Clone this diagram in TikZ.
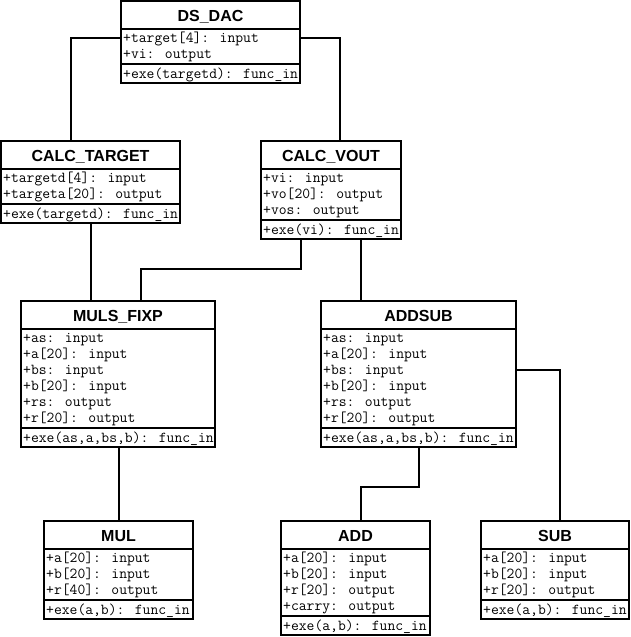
\documentclass[tikz,border=0pt]{standalone}
\usepackage{fontspec}
\newfontfamily\hdfont{Liberation Sans}
\usetikzlibrary{calc}
\tikzset{
  classbox/.style={draw, line width=1.5pt, rectangle, inner sep=0pt, outer sep=0pt, anchor=north west, fill=white},
  sepline/.style={line width=1.5pt},
  classtitle/.style={font=\hdfont\bfseries\fontsize{16}{18}\selectfont, inner sep=0pt, anchor=base},
  member/.style={font=\ttfamily\fontsize{15.2}{16}\selectfont, anchor=mid west, inner sep=0pt},
  conn/.style={line width=1.5pt}
}
% #1 name, #2 L, #3 R, #4 T, #5 number of attributes, #6 title, #7 attributes, #8 method
\newcommand\umlclass[8]{%
  \pgfmathsetmacro\hsep{#4+28}%
  \pgfmathsetmacro\msep{#4+28+16*#5+3}%
  \pgfmathsetmacro\cbot{\msep+19}%
  \pgfmathsetmacro\bw{#3-#2}%
  \pgfmathsetmacro\bh{\cbot-#4}%
  \node[classbox, minimum width=\bw pt, minimum height=\bh pt] (#1) at (#2,#4) {};
  \node[classtitle] (#1-t) at ({(#2+#3)/2},#4+20.5) {#6};
  \draw[sepline] (#2,\hsep) -- (#3,\hsep);
  \draw[sepline] (#2,\msep) -- (#3,\msep);
  \foreach \attr [count=\i] in {#7} {
    \node[member] (#1-a\i) at (#2+2,{\hsep+11.5+16*(\i-1)}) {\attr};
  }
  \node[member] (#1-m) at (#2+2,\msep+12) {#8};
}
\begin{document}
\begin{tikzpicture}[x=1pt,y=-1pt]
\useasboundingbox (0,0) rectangle (630,637);

\umlclass{dsdac}{121}{300}{1}{2}{DS\_DAC}{+target[4]: input,+vi: output}{+exe(targetd): func\_in}
\umlclass{calctarget}{1}{180}{141}{2}{CALC\_TARGET}{+targetd[4]: input,+targeta[20]: output}{+exe(targetd): func\_in}
\umlclass{calcvout}{261}{401}{141}{3}{CALC\_VOUT}{+vi: input,+vo[20]: output,+vos: output}{+exe(vi): func\_in}
\umlclass{mulsfixp}{21}{215}{301}{6}{MULS\_FIXP}{+as: input,+a[20]: input,+bs: input,+b[20]: input,+rs: output,+r[20]: output}{+exe(as,a,bs,b): func\_in}
\umlclass{addsub}{321}{516}{301}{6}{ADDSUB}{+as: input,+a[20]: input,+bs: input,+b[20]: input,+rs: output,+r[20]: output}{+exe(as,a,bs,b): func\_in}
\umlclass{mul}{44}{193}{521}{3}{MUL}{+a[20]: input,+b[20]: input,+r[40]: output}{+exe(a,b): func\_in}
\umlclass{add}{281}{430}{521}{4}{ADD}{+a[20]: input,+b[20]: input,+r[20]: output,+carry: output}{+exe(a,b): func\_in}
\umlclass{sub}{481}{629}{521}{3}{SUB}{+a[20]: input,+b[20]: input,+r[20]: output}{+exe(a,b): func\_in}

\draw[conn] ([yshift=-37pt]dsdac.north west) -| ([xshift=70pt]calctarget.north west);
\draw[conn] ([yshift=-37pt]dsdac.north east) -| ([xshift=79pt]calcvout.north west);
\draw[conn] ([xshift=90pt]calctarget.south west) -- ([xshift=90pt]calctarget.south west |- mulsfixp.north);
\draw[conn] ([xshift=40pt]calcvout.south west) |- ([xshift=120pt,yshift=32pt]mulsfixp.north west) -- ([xshift=120pt]mulsfixp.north west);
\draw[conn] ([xshift=100pt]calcvout.south west) -- ([xshift=40pt]addsub.north west);
\draw[conn] ([xshift=98pt]mulsfixp.south west) -- ([xshift=98pt]mulsfixp.south west |- mul.north);
\draw[conn] ([xshift=98pt]addsub.south west) |- ([xshift=80pt,yshift=34pt]add.north west) -- ([xshift=80pt]add.north west);
\draw[conn] ([yshift=-69pt]addsub.north east) -| ([xshift=79pt]sub.north west);
\end{tikzpicture}
\end{document}
